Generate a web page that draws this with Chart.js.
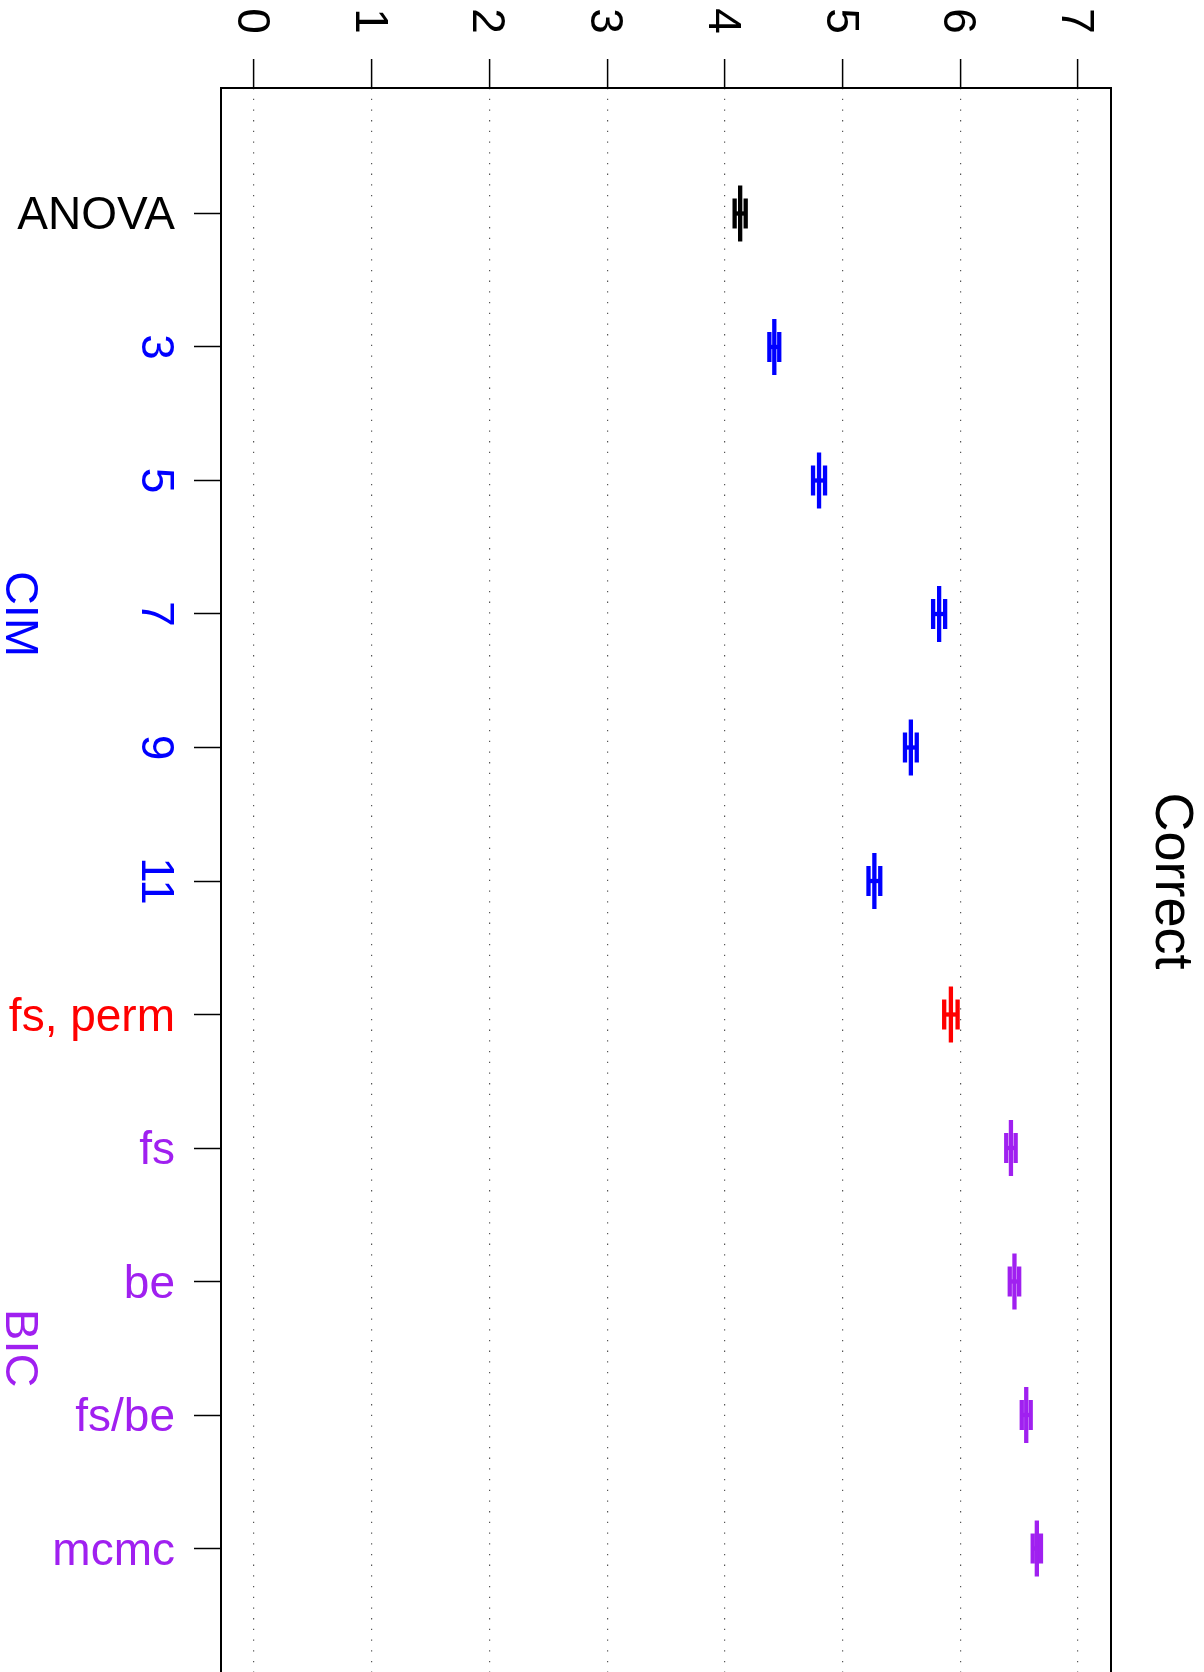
<!DOCTYPE html>
<html>
<head>
<meta charset="utf-8">
<script src="https://cdn.jsdelivr.net/npm/chart.js@4.4.1/dist/chart.umd.min.js"></script>
<style>
  html, body { margin: 0; padding: 0; background: #fff; }
  #wrap { width: 1204px; height: 1672px; position: relative; }
</style>
</head>
<body>
<div id="wrap"><canvas id="chart"></canvas></div>
<script>
// ─── Data ─────────────────────────────────────────────────────
const categories  = ['ANOVA', '3', '5', '7', '9', '11', 'fs, perm', 'fs', 'be', 'fs/be', 'mcmc'];
const catColors   = ['#000000', '#0000FF', '#0000FF', '#0000FF', '#0000FF', '#0000FF',
                     '#FF0000', '#A020F0', '#A020F0', '#A020F0', '#A020F0'];
const rotatedCats = [false, true, true, true, true, true, false, false, false, false, false];
const means       = [4.13, 4.42, 4.80, 5.82, 5.58, 5.27, 5.92, 6.43, 6.46, 6.56, 6.65];
const ses         = [0.047, 0.042, 0.051, 0.051, 0.050, 0.050, 0.057, 0.040, 0.040, 0.038, 0.035];
const valueTicks  = [0, 1, 2, 3, 4, 5, 6, 7];
const groups      = [{ label: 'CIM', from: 2, to: 6, color: '#0000FF' },
                     { label: 'BIC', from: 8, to: 11, color: '#A020F0' }];
const title       = 'Correct';

const FONT = "'Liberation Sans', Arial, Helvetica, sans-serif";
const LW = 4.3;

// ─── Datasets: one SE bar (with end caps) per category + mean ticks ──
const datasets = categories.map((c, i) => ({
  type: 'scatter',
  showLine: true,
  data: [{ x: means[i] - ses[i], y: i + 1 }, { x: means[i] + ses[i], y: i + 1 }],
  borderColor: catColors[i],
  borderWidth: LW,
  pointStyle: 'line',
  rotation: 90,
  pointRadius: 15,
  pointBorderColor: catColors[i],
  pointBorderWidth: LW,
}));
datasets.push({
  type: 'scatter',
  data: means.map((m, i) => ({ x: m, y: i + 1 })),
  pointStyle: 'line',
  rotation: 90,
  pointRadius: 28,
  pointBorderColor: catColors,
  pointBorderWidth: LW,
});

// ─── Frame and rotated texts ──────────────────────────────────
const textPlugin = {
  id: 'rotatedText',
  afterDraw(chart) {
    const { ctx, chartArea: a, scales: { x, y } } = chart;
    ctx.save();

    // box (bottom edge falls just outside the picture)
    ctx.strokeStyle = '#000';
    ctx.lineWidth = 2;
    ctx.beginPath();
    ctx.moveTo(a.left, a.bottom + 5);
    ctx.lineTo(a.left, a.top);
    ctx.lineTo(a.right, a.top);
    ctx.lineTo(a.right, a.bottom + 5);
    ctx.stroke();

    ctx.font = `46px ${FONT}`;
    ctx.fillStyle = '#000';

    // value tick labels, turned a quarter clockwise
    valueTicks.forEach(v => {
      ctx.save();
      ctx.translate(x.getPixelForValue(v) - 16, 21);
      ctx.rotate(Math.PI / 2);
      ctx.textAlign = 'center';
      ctx.textBaseline = 'alphabetic';
      ctx.fillText(String(v), 0, 0);
      ctx.restore();
    });

    // category labels
    categories.forEach((c, i) => {
      const py = y.getPixelForValue(i + 1);
      ctx.fillStyle = catColors[i];
      if (rotatedCats[i]) {
        ctx.save();
        ctx.translate(142, py);
        ctx.rotate(Math.PI / 2);
        ctx.textAlign = 'center';
        ctx.textBaseline = 'alphabetic';
        ctx.fillText(c, 0, 0);
        ctx.restore();
      } else {
        ctx.textAlign = 'right';
        ctx.textBaseline = 'alphabetic';
        ctx.fillText(c, 175, py + 16);
      }
    });

    // group labels
    ctx.font = `47px ${FONT}`;
    groups.forEach(g => {
      const py = (y.getPixelForValue(g.from) + y.getPixelForValue(g.to)) / 2;
      ctx.save();
      ctx.fillStyle = g.color;
      ctx.translate(6, py);
      ctx.rotate(Math.PI / 2);
      ctx.textAlign = 'center';
      ctx.textBaseline = 'alphabetic';
      ctx.fillText(g.label, 0, 0);
      ctx.restore();
    });

    // title on the right
    ctx.save();
    ctx.font = `54px ${FONT}`;
    ctx.fillStyle = '#000';
    ctx.translate(1156, (a.top + a.bottom + 2) / 2);
    ctx.rotate(Math.PI / 2);
    ctx.textAlign = 'center';
    ctx.textBaseline = 'alphabetic';
    ctx.fillText(title, 0, 0);
    ctx.restore();

    ctx.restore();
  },
};

new Chart(document.getElementById('chart'), {
  type: 'scatter',
  data: { datasets },
  options: {
    responsive: true,
    maintainAspectRatio: false,
    animation: false,
    events: [],
    layout: { autoPadding: false, padding: { left: 194, top: 59, right: 93, bottom: 0 } },
    plugins: { legend: { display: false }, tooltip: { enabled: false } },
    scales: {
      x: {
        type: 'linear',
        position: 'top',
        min: -0.28, max: 7.28,
        afterBuildTicks: s => { s.ticks = valueTicks.map(v => ({ value: v })); },
        afterFit: s => { s.height = 29; },
        ticks: { display: false },
        border: { display: false, dash: [1.3, 9.4] },
        grid: {
          color: '#555', lineWidth: 1.2,
          drawTicks: true, tickLength: 29, tickColor: '#000', tickWidth: 1.5, tickBorderDash: [],
        },
      },
      y: {
        type: 'linear',
        reverse: true,
        min: 0.06, max: 11.925,
        afterBuildTicks: s => { s.ticks = categories.map((c, i) => ({ value: i + 1 })); },
        afterFit: s => { s.width = 27; },
        ticks: { display: false },
        border: { display: false },
        grid: {
          drawOnChartArea: false,
          drawTicks: true, tickLength: 27, tickColor: '#000', tickWidth: 1.5,
        },
      },
    },
  },
  plugins: [textPlugin],
});
</script>
</body>
</html>
